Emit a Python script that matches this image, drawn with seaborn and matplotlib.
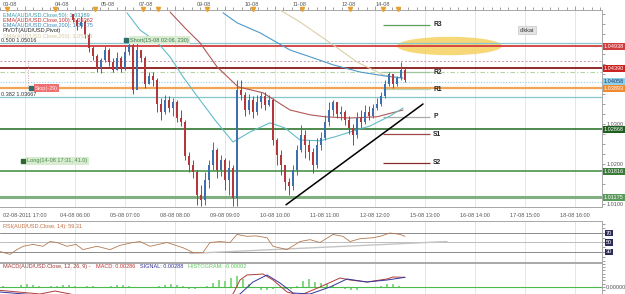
import numpy as np
import matplotlib
matplotlib.use("Agg")
import matplotlib.pyplot as plt
import matplotlib.transforms as mtransforms
from matplotlib.patches import Ellipse
from matplotlib.ticker import MultipleLocator, FixedLocator, FormatStrFormatter, NullFormatter
import seaborn as sns

# ---- price data (AUD/USD, one candle every 2 hours) ----
first_bar = 36.5
bar_step = 2.0
open0 = 1.0575
close = [1.0560, 1.0545, 1.0555, 1.0523, 1.0490, 1.0470, 1.0440, 1.0460, 1.0485, 1.0455,
         1.0435, 1.0465, 1.0440, 1.0480, 1.0498, 1.0385, 1.0485, 1.0465, 1.0400, 1.0420,
         1.0410, 1.0350, 1.0330, 1.0360, 1.0340, 1.0355, 1.0315, 1.0305, 1.0220, 1.0198,
         1.0180, 1.0123, 1.0110, 1.0160, 1.0198, 1.0235, 1.0185, 1.0210, 1.0160, 1.0190,
         1.0115, 1.0385, 1.0373, 1.0335, 1.0360, 1.0330, 1.0355, 1.0370, 1.0348, 1.0360,
         1.0260, 1.0223, 1.0198, 1.0155, 1.0145, 1.0185, 1.0235, 1.0273, 1.0248, 1.0230,
         1.0198, 1.0248, 1.0265, 1.0305, 1.0335, 1.0355, 1.0325, 1.0330, 1.0310, 1.0290,
         1.0273, 1.0315, 1.0305, 1.0330, 1.0320, 1.0340, 1.0350, 1.0370, 1.0400, 1.0425,
         1.0400, 1.0415, 1.0435, 1.0410]
high = [1.0575, 1.0565, 1.0570, 1.0560, 1.0528, 1.0495, 1.0475, 1.0465, 1.0495, 1.0490,
        1.0465, 1.0480, 1.0470, 1.0495, 1.0515, 1.0505, 1.0503, 1.0485, 1.0470, 1.0430,
        1.0430, 1.0415, 1.0365, 1.0373, 1.0370, 1.0365, 1.0360, 1.0335, 1.0310, 1.0230,
        1.0210, 1.0185, 1.0148, 1.0180, 1.0210, 1.0255, 1.0240, 1.0223, 1.0215, 1.0210,
        1.0198, 1.0410, 1.0410, 1.0380, 1.0375, 1.0370, 1.0373, 1.0380, 1.0380, 1.0373,
        1.0365, 1.0265, 1.0235, 1.0198, 1.0165, 1.0198, 1.0248, 1.0298, 1.0285, 1.0260,
        1.0240, 1.0265, 1.0280, 1.0323, 1.0355, 1.0360, 1.0350, 1.0345, 1.0335, 1.0320,
        1.0300, 1.0330, 1.0335, 1.0348, 1.0345, 1.0350, 1.0365, 1.0380, 1.0410, 1.0430,
        1.0425, 1.0420, 1.0455, 1.0440]
low = [1.0555, 1.0535, 1.0540, 1.0515, 1.0480, 1.0460, 1.0430, 1.0428, 1.0455, 1.0445,
       1.0430, 1.0435, 1.0430, 1.0435, 1.0473, 1.0375, 1.0390, 1.0455, 1.0390, 1.0400,
       1.0395, 1.0330, 1.0310, 1.0325, 1.0330, 1.0320, 1.0305, 1.0295, 1.0210, 1.0180,
       1.0165, 1.0098, 1.0095, 1.0098, 1.0140, 1.0185, 1.0165, 1.0170, 1.0135, 1.0123,
       1.0095, 1.0095, 1.0360, 1.0320, 1.0325, 1.0315, 1.0323, 1.0340, 1.0335, 1.0345,
       1.0248, 1.0198, 1.0173, 1.0135, 1.0123, 1.0135, 1.0173, 1.0230, 1.0215, 1.0210,
       1.0178, 1.0190, 1.0235, 1.0260, 1.0295, 1.0320, 1.0315, 1.0310, 1.0298, 1.0275,
       1.0248, 1.0265, 1.0290, 1.0300, 1.0310, 1.0315, 1.0335, 1.0345, 1.0365, 1.0395,
       1.0390, 1.0395, 1.0410, 1.0405]

# moving averages (hour, value)
ema50_t = [63.5, 70, 78.5, 85, 91.5, 100, 107.5, 116.5, 125, 135, 142.5, 150, 160, 167.5, 175, 185, 195, 201.5]
ema50_v = [1.0578, 1.0535, 1.0505, 1.0468, 1.0418, 1.0360, 1.0310, 1.0255, 1.0280, 1.0303, 1.0290, 1.0260,
           1.0258, 1.0268, 1.0280, 1.0295, 1.0320, 1.0340]
ema100_t = [85, 92.5, 100, 108.5, 119, 131.5, 145, 155, 162.5, 175, 188.5, 201.5]
ema100_v = [1.0580, 1.0540, 1.0503, 1.0443, 1.0393, 1.0378, 1.0335, 1.0323, 1.0318, 1.0315, 1.0318, 1.0335]
ema200_t = [111.5, 118.5, 130, 145, 155, 166.5, 180, 192.5, 201.5]
ema200_v = [1.0578, 1.0553, 1.0528, 1.0485, 1.0468, 1.0448, 1.0430, 1.0420, 1.0415]
sma200_t = [140, 150, 166.5, 178.5, 191.5, 200]
sma200_v = [1.0585, 1.0555, 1.0498, 1.0455, 1.0423, 1.0415]

# horizontal levels
level_vals = [1.05016, 1.04938, 1.04575, 1.04390, 1.04300, 1.04058, 1.03893, 1.03667, 1.02868, 1.01816, 1.01175]
level_colors = ["#86c6cc", "#d23c3c", "#c898a8", "#8b1a1a", "#b4d4a4", "#8fd0ea", "#f2a456", "#86c6cc",
                "#1f6b1f", "#3a8a3a", "#80b080"]
level_styles = ["-", "-", (0, (2, 2)), "-", (0, (4, 2, 1, 2)), (0, (1, 1.5)), "-", "-", "-", "-", "-"]
level_widths = [0.9, 1.3, 0.7, 1.3, 0.8, 0.8, 1.6, 0.9, 1.1, 1.1, 2.2]

# labels on the price axis
tag_vals = [1.04938, 1.04390, 1.04058, 1.03893, 1.02868, 1.01816, 1.01175]
tag_text = ["1.04938", "1.04390", "1.04058", "1.03893", "1.02868", "1.01816", "1.01175"]
tag_fc = ["#d23c3c", "#cc2222", "#8fd0ea", "#f08a30", "#1f5f1f", "#3a7a3a", "#5a9a5a"]
tag_tc = ["white", "white", "#1a3a6a", "white", "white", "white", "white"]

# pivot levels
pivot_names = ["R3", "R2", "R1", "P", "S1", "S2"]
pivot_vals = [1.0548, 1.0430, 1.0387, 1.0318, 1.0275, 1.0203]
pivot_colors = ["#5aa05a", "#9cc69c", "#b8d8b8", "#aaaaaa", "#a04848", "#8a2a2a"]
pivot_from, pivot_to = 191.5, 215

trend_t = [143, 211.5]
trend_v = [1.0098, 1.0350]

# x axis
xtick_pos = [12.5 + 25 * k for k in range(12)]
xtick_labels = ["02-08-2011 17:00", "04-08 06:00", "05-08 07:00", "08-08 08:00", "09-08 09:00",
                "10-08 10:00", "11-08 11:00", "12-08 12:00", "15-08 13:00", "16-08 14:00",
                "17-08 15:00", "18-08 16:00"]
day_pos = [5, 31, 54, 73, 102, 126, 150, 174.5, 191.5]
day_labels = ["03-08", "04-08", "05-08", "07-08", "09-08", "10-08", "11-08", "12-08", "14-08"]
event_pos = [3.5, 27.5, 47.5, 71.5, 79, 103.5, 126.5, 151, 175, 191.5, 199]

# RSI
rsi_t = [0, 5, 8.5, 11.5, 16.5, 21.5, 25, 28.5, 33.5, 38, 41.5, 48.5, 55, 60, 66.5, 70, 75, 83.5,
         91.5, 96.5, 101.5, 105, 110, 115, 118.5, 123.5, 128, 133.5, 136.5, 143.5, 150, 155, 160,
         166.5, 171.5, 175, 180, 186.5, 190, 195, 198.5, 200, 202.5]
rsi_v = [31, 25, 35, 42, 46, 42, 52, 50, 42, 46, 35, 42, 35, 44, 50, 52, 42, 50, 39, 29, 29, 50,
         52, 50, 67, 63, 64, 60, 42, 35, 52, 56, 50, 67, 63, 52, 58, 60, 63, 70, 68, 67, 63]
rsi_trend_t = [95, 223.5]
rsi_trend_v = [27, 52]

# MACD (values in 1e-4)
macd_t = [0, 20, 27.5, 35, 50, 75, 100, 112.5, 116.5, 120, 123.5, 131.5, 136.5, 143.5, 150, 160,
          170, 175, 183.5, 193.5, 196.5, 202.5]
macd_v = [-10, -21, -12, -21, -40, -60, -50, -30, -21, 21, 36, 39, 21, -15, -25, 0, 27, 21, 15, 24, 30, 29]
sig_t = [0, 50, 85, 110, 120, 126.5, 133.5, 140, 146.5, 155, 165, 173.5, 183.5, 193.5, 202.5]
sig_v = [-15, -40, -60, -40, -21, 15, 36, 12, -18, -21, 0, 24, 15, 21, 29]
hist_v = [3, 1.5, -1.5, 6, 9, 7.5, 3, -1.5, 3, 4.5, 6, 6, 3, 1.5, 4.5, 3, -3, -3, 3, 6, 6, 4.5,
          1.5, -1.5, -3, 1.5, 3, 7.5, 9, 7.5, 3, -4.5, -6, -3, 3, 12, 21, 18, 27, 33, 24, 9, -3,
          -7.5, -9, -6, -3, -4.5, -6, 3, 18, 24, 15, 12, 9, 4.5, 1.5, -4.5, -9, -7.5, -3, 1.5,
          1.5, 3, 9, 9, 4.5, -1.5]
hist_start, hist_step = 1.5, 3.0

# ---------------------------------------------------------------
sns.set_theme(style="white")
plt.rcParams["font.family"] = ["Liberation Sans", "DejaVu Sans"]
FS = 4.0
W, H = 625, 294
fig = plt.figure(figsize=(W / 100, H / 100), dpi=100)


def fx(px):
    return px / W


def fy(py):
    return 1 - py / H


ax = fig.add_axes([0, fy(207), fx(602), (207 - 10) / H])
ax_rsi = fig.add_axes([0, fy(262), fx(602), 41 / H], sharex=ax)
ax_macd = fig.add_axes([0, 0, fx(602), 31 / H], sharex=ax)

grid_col = "#e2e2e2"
spine_col = "#a8a8a8"
for a in (ax, ax_rsi, ax_macd):
    a.set_facecolor("white")
    a.yaxis.tick_right()
    a.grid(axis="x", which="major", color=grid_col, lw=0.6)
    a.spines["left"].set_visible(False)
    for s in ("top", "right", "bottom"):
        a.spines[s].set_color(spine_col)
        a.spines[s].set_linewidth(0.7)
    a.tick_params(axis="both", which="both", colors="#777777", length=2, width=0.5,
                  labelsize=FS, labelcolor="#555555", pad=1)

ax.set_xlim(0, 301)
ax.set_ylim(1.00925, 1.0585)

# levels
for v, c, ls, lw in zip(level_vals, level_colors, level_styles, level_widths):
    ax.axhline(v, color=c, ls=ls, lw=lw, zorder=2)

# highlight ellipse
ax.add_patch(Ellipse((224.75, 1.0495), 52.5, 0.0046, fc="#f6d262", ec="none", alpha=0.85, zorder=1.5))

# pivot segments
for name, v, c in zip(pivot_names, pivot_vals, pivot_colors):
    ax.hlines(v, pivot_from, pivot_to, color=c, lw=0.9, zorder=3)
    ax.text(pivot_to + 1.5, v, name, fontsize=4.8, fontweight="bold", color="#222222",
            va="center", ha="left", zorder=6)

# moving averages
sns.lineplot(x=sma200_t, y=sma200_v, ax=ax, color="#dcd0a8", lw=0.8, zorder=3)
sns.lineplot(x=ema200_t, y=ema200_v, ax=ax, color="#4f9ac8", lw=0.8, zorder=3)
sns.lineplot(x=ema100_t, y=ema100_v, ax=ax, color="#b05858", lw=0.8, zorder=3)
sns.lineplot(x=ema50_t, y=ema50_v, ax=ax, color="#64bcc8", lw=0.8, zorder=3)

# candles
c_arr = np.array(close)
o_arr = np.r_[open0, c_arr[:-1]]
t_arr = first_bar + bar_step * np.arange(len(c_arr))
cols = np.where(c_arr >= o_arr, "#3e6fae", "#b4373b")
ax.vlines(t_arr, low, high, colors=cols, lw=0.7, zorder=4)
body = np.maximum(np.abs(c_arr - o_arr), 0.00012)
ax.bar(t_arr, body, bottom=np.minimum(o_arr, c_arr), width=1.3, color=cols, lw=0, zorder=4)

# trendline
sns.lineplot(x=trend_t, y=trend_v, ax=ax, color="black", lw=1.1, zorder=5)

# vertical dotted marker
ax.vlines(14, 1.0390, 1.0460, color="#d8a0b0", ls=(0, (1, 1.5)), lw=0.7, zorder=2)

# trade labels
box_kw = dict(boxstyle="square,pad=0.25", ec="none")
ax.plot([63], [1.0510], marker="s", ms=3.2, color="#2f6e6a", zorder=7)
ax.text(65, 1.0510, "Short(15-08 02:06, 230)", fontsize=FS, color="#3a7a4a", va="center",
        bbox=dict(fc="#d9ecd2", **box_kw), zorder=6)
ax.plot([15.5], [1.0390], marker="s", ms=3.2, color="#2f6e6a", zorder=7)
ax.text(17.5, 1.0390, "Stop(-29)", fontsize=FS, color="#fff0f0", va="center",
        bbox=dict(fc="#ee7070", **box_kw), zorder=6)
ax.plot([11.5], [1.0208], marker="s", ms=3.2, color="#2e6a2e", zorder=7)
ax.text(13.5, 1.0208, "Long(14-08 17:31, 41.0)", fontsize=FS, color="#4a8a4a", va="center",
        bbox=dict(fc="#d9ecd2", **box_kw), zorder=6)
ax.text(263.5, 1.0535, "dikkat", fontsize=FS, color="#333333", va="center", ha="center",
        bbox=dict(boxstyle="square,pad=0.25", fc="#e4e4e4", ec="#bdbdbd", lw=0.4), zorder=6)

# fib texts
ax.text(0.5, 1.05016, "0.500 1.05016", fontsize=FS, color="#333333", va="bottom", zorder=6)
ax.text(0.5, 1.03667, "0.382 1.03667", fontsize=FS, color="#333333", va="bottom", zorder=6)

# indicator legend
legend_lines = [("EMA(AUD/USD.Close,50): 1.03389", "#3a9aa8"),
                ("EMA(AUD/USD.Close,100): 1.03362", "#c03030"),
                ("EMA(AUD/USD.Close,200): 1.04175", "#3a88b8"),
                ("PIVOT(AUD/USD,Pivot)", "#222222"),
                ("SMA(AUD/USD.Close,200): 1.05215", "#d2c8a0")]
for k, (txt, c) in enumerate(legend_lines):
    fig.text(fx(3), fy(15 + 5.3 * k), txt, fontsize=FS, color=c, va="center", zorder=8)

# price axis
ax.yaxis.set_major_locator(FixedLocator([1.01, 1.02, 1.03, 1.04, 1.05]))
ax.yaxis.set_major_formatter(FormatStrFormatter("%.4f"))
ax.yaxis.set_minor_locator(MultipleLocator(0.0025))
for lab in ax.get_yticklabels():
    if lab.get_text() in ("1.0400", "1.0500"):
        lab.set_visible(False)
ytr = mtransforms.blended_transform_factory(ax.transAxes, ax.transData)
for v, txt, fc, tc in zip(tag_vals, tag_text, tag_fc, tag_tc):
    ax.text(1.003, v, txt, transform=ytr, fontsize=FS, color=tc, va="center", ha="left",
            bbox=dict(boxstyle="square,pad=0.18", fc=fc, ec="none"), clip_on=False, zorder=9)

# x axis
ax.xaxis.set_major_locator(FixedLocator(xtick_pos))
ax.xaxis.set_minor_locator(MultipleLocator(25 / 6))
ax.set_xticklabels(xtick_labels)
ax.tick_params(axis="x", which="both", top=True)
ax.tick_params(axis="x", which="major", length=3)
for a in (ax_rsi, ax_macd):
    a.tick_params(axis="x", which="both", bottom=False, labelbottom=False)
ax.set_xlabel("")
ax.set_ylabel("")

xtr = mtransforms.blended_transform_factory(ax.transData, ax.transAxes)
ax.plot(event_pos, [1.005] * len(event_pos), "v", ms=3, color="#e8a030", transform=xtr, clip_on=False, zorder=9)
for p, lab in zip(day_pos, day_labels):
    ax.text(p, 1.014, lab, transform=xtr, fontsize=FS, color="#555555", ha="center", va="bottom", clip_on=False)

# RSI panel
ax_rsi.set_ylim(8.9, 95.3)
for v, c in zip([70, 50, 30], ["#8a8a8a", "#bdbdbd", "#8a8a8a"]):
    ax_rsi.axhline(v, color=c, lw=0.7)
sns.lineplot(x=rsi_trend_t, y=rsi_trend_v, ax=ax_rsi, color="#c4c4c4", lw=1.0)
sns.lineplot(x=rsi_t, y=rsi_v, ax=ax_rsi, color="#b47a52", lw=0.6)
ax_rsi.yaxis.set_major_locator(FixedLocator([30, 50, 70]))
ax_rsi.yaxis.set_minor_locator(MultipleLocator(10))
ax_rsi.yaxis.set_major_formatter(NullFormatter())
rtr = mtransforms.blended_transform_factory(ax_rsi.transAxes, ax_rsi.transData)
for v in (70, 50, 30):
    ax_rsi.text(1.006, v, str(v), transform=rtr, fontsize=FS, color="white", va="center",
                bbox=dict(boxstyle="square,pad=0.15", fc="#2c2c58", ec="none"), clip_on=False)
ax_rsi.text(0.005, 0.86, "RSI(AUD/USD.Close, 14): 59.31", transform=ax_rsi.transAxes,
            fontsize=FS, color="#c07040", va="center")
ax_rsi.set_ylabel("")

# MACD panel
ax_macd.set_ylim(-0.0021, 0.0072)
ax_macd.axhline(0, color="#4cbb4c", lw=0.8)
ht = hist_start + hist_step * np.arange(len(hist_v))
ax_macd.bar(ht, np.array(hist_v) * 1e-4, width=0.9, color="#86d886", lw=0)
sns.lineplot(x=macd_t, y=np.array(macd_v) * 1e-4, ax=ax_macd, color="#b03a3a", lw=0.7)
sns.lineplot(x=sig_t, y=np.array(sig_v) * 1e-4, ax=ax_macd, color="#34349a", lw=0.7)
ax_macd.yaxis.set_major_locator(FixedLocator([0.0]))
ax_macd.yaxis.set_major_formatter(FormatStrFormatter("%.5f"))
ax_macd.yaxis.set_minor_locator(MultipleLocator(0.001))
ax_macd.spines["bottom"].set_visible(False)
ax_macd.set_ylabel("")
ax_macd.set_xlim(0, 301)

# MACD title, pieces placed one after another
macd_parts = [("MACD(AUD/USD.Close, 12, 26, 9) -", "#a03838"),
              ("MACD: 0.00286", "#c03030"),
              ("SIGNAL: 0.00288", "#34349a"),
              ("HISTOGRAM: -0.00002", "#5cc85c")]
renderer = fig.canvas.get_renderer()
x_px = 3
for txt, c in macd_parts:
    t = fig.text(fx(x_px), fy(266.5), txt, fontsize=FS, color=c, va="center")
    x_px += t.get_window_extent(renderer).width + 5

fig.savefig("out.png", dpi=100)
